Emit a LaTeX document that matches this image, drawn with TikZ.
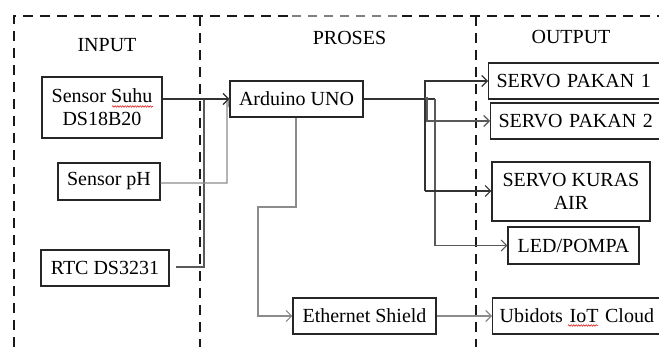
\documentclass[tikz,border=0pt]{standalone}
\usepackage{fontspec}
\setmainfont{Liberation Serif}
\usetikzlibrary{arrows.meta,decorations.pathmorphing}
\tikzset{
  box/.style={draw=black!85, line width=1.2pt, inner sep=0pt, align=center, font=\fontsize{20}{23}\selectfont},
  lbox/.style={draw=black!85, line width=1.2pt, inner sep=0pt, anchor=west, align=left, font=\fontsize{20}{23}\selectfont},
  title/.style={font=\fontsize{20}{23}\selectfont, inner sep=0pt},
  frame/.style={line width=2.4pt, dash pattern=on 10pt off 7pt, black!90},
  lightframe/.style={line width=1.3pt, dash pattern=on 9pt off 7pt, black!50},
  arr/.style={line width=1.1pt, -{Straight Barb[length=5.5pt,width=11pt,line width=1.1pt]}},
  dk/.style={draw=black!80},
  gr/.style={draw=black!45},
  md/.style={draw=black!65},
  squig/.style={red!85!black, line width=0.5pt, decorate, decoration={snake, amplitude=0.8pt, segment length=2.5pt}}
}
\begin{document}
\begin{tikzpicture}[x=1pt,y=-1pt]
\useasboundingbox (0,0) rectangle (659,347);
\clip (0,0) rectangle (659,347);
\fill[white] (0,0) rectangle (659,347);

% frame
\draw[frame] (14,347) -- (14,16) -- (292,16);
\draw[lightframe] (292,16) -- (402,16);
\draw[frame] (402,16) -- (670,16);
\draw[frame] (200,16) -- (200,347);
\draw[frame] (476,16) -- (476,347);

% titles
\node[title] (tin) at (107,45) {INPUT};
\node[title] (tpr) at (349.5,38) {PROSES};
\node[title] (tout) at (571,37) {OUTPUT};

% boxes
\node[box, minimum width=120pt, minimum height=61pt] (suhu) at (102,107.5) {Sensor Suhu\\DS18B20};
\node[box, minimum width=102pt, minimum height=37pt] (ph) at (109,181.5) {Sensor pH};
\node[box, minimum width=128pt, minimum height=36pt] (rtc) at (105,268) {RTC DS3231};
\node[box, minimum width=133pt, minimum height=36pt] (ard) at (296.5,99) {Arduino UNO};
\node[box, minimum width=143pt, minimum height=36pt] (eth) at (364.5,316) {Ethernet Shield};
\node[lbox, text width=170pt, minimum height=36pt, inner xsep=8pt] (sp1) at (488,81) {SERVO PAKAN 1};
\node[lbox, text width=170pt, minimum height=36pt, inner xsep=8pt] (sp2) at (490,121) {SERVO PAKAN 2};
\node[box, minimum width=158pt, minimum height=59pt] (kur) at (571,191.5) {SERVO KURAS\\AIR};
\node[box, minimum width=131pt, minimum height=37pt] (led) at (573.5,245.5) {LED/POMPA};
\node[lbox, text width=170pt, minimum height=36pt, inner xsep=7pt] (ubi) at (492,316) {Ubidots IoT Cloud};

% spell-check squiggles
\coordinate (sq1a) at (112,106.5);
\coordinate (sq1b) at (153,106.5);
\coordinate (sq2a) at (568,325.5);
\coordinate (sq2b) at (598,325.5);
\draw[squig] (sq1a) -- (sq1b);
\draw[squig] (sq2a) -- (sq2b);

% inputs to Arduino
\coordinate (phc) at (227,183);
\coordinate (rtcs) at (176,267);
\coordinate (rtcc) at (204,267);
\coordinate (rtct) at (204,99);
\draw[arr, md] (rtcs) -- (rtcc) -- (rtct) -- (ard.west);
\draw[arr, gr] (ph.east |- phc) -- (phc) -- (227,101) -- (ard.west);
\draw[arr, dk] (suhu.east |- ard.west) -- (ard.west);

% Arduino to outputs
\coordinate (b1) at (425,81);
\coordinate (b2) at (425,191);
\coordinate (b3) at (427,121);
\coordinate (c1) at (435,99);
\coordinate (c2) at (435,245.5);
\draw[line width=1.1pt, dk] (ard.east) -- (c1);
\draw[arr, md] (c1) -- (c2) -- (led.west);
\draw[arr, dk] (b2) -- (b1) -- (sp1.west);
\draw[arr, md] (425,98) -- (427,98) -- (b3) -- (sp2.west);
\draw[arr, dk] (b2) -- (kur.west |- b2);

% Arduino to Ethernet
\coordinate (e1) at (296,207);
\coordinate (e2) at (258,207);
\coordinate (e3) at (258,316);
\draw[arr, gr] (ard.south -| e1) -- (e1) -- (e2) -- (e3) -- (eth.west);
\draw[arr, gr] (eth.east) -- (ubi.west);
\end{tikzpicture}
\end{document}
